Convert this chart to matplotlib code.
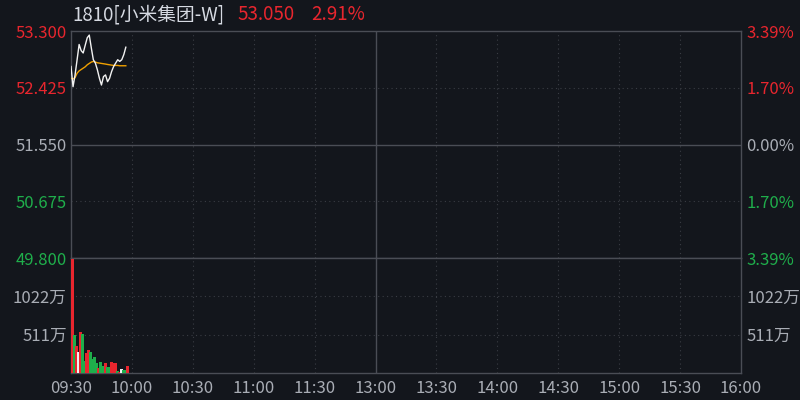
import matplotlib.pyplot as plt

plt.rcParams['font.family'] = ['Noto Sans CJK SC', 'DejaVu Sans']

# 颜色
BG = '#13161c'
GRID = '#3a3d44'
AXIS = '#4a4d55'
TEXT = '#a9adb5'
RED = '#e8262e'
GREEN = '#1fae4b'
WHITE = '#f2f2f2'
ORANGE = '#f0a000'

# 标题
stock_name = '1810[小米集团-W]'
last_price = '53.050'
change_pct = '2.91%'

# 坐标轴
prev_close = 51.550
price_ticks = [53.300, 52.425, 51.550, 50.675, 49.800]
price_labels = ['53.300', '52.425', '51.550', '50.675', '49.800']
pct_labels = ['3.39%', '1.70%', '0.00%', '1.70%', '3.39%']
label_colors = [RED, RED, TEXT, GREEN, GREEN]
vol_ticks = [511, 1022]
vol_labels = ['511万', '1022万']
vol_max = 1533
time_ticks = [0, 30, 60, 90, 120, 150, 180, 210, 240, 270, 300, 330]
time_labels = ['09:30', '10:00', '10:30', '11:00', '11:30', '13:00',
               '13:30', '14:00', '14:30', '15:00', '15:30', '16:00']

# 分时数据 (每分钟)
price = [52.753, 52.441, 52.623, 52.857, 53.092, 52.998, 52.961, 53.081,
         53.196, 53.237, 53.040, 52.857, 52.805, 52.701, 52.571, 52.467,
         52.597, 52.623, 52.519, 52.571, 52.675, 52.753, 52.805, 52.857,
         52.831, 52.857, 52.935, 53.050]
avg_price = [52.571, 52.560, 52.581, 52.649, 52.685, 52.706, 52.727, 52.748,
             52.779, 52.800, 52.821, 52.831, 52.821, 52.810, 52.805, 52.800,
             52.795, 52.790, 52.784, 52.779, 52.774, 52.769, 52.769, 52.769,
             52.764, 52.764, 52.764, 52.764]
volume = [1521, 511, 364, 284, 551, 524, 164, 267, 311, 284, 191, 217, 137, 71,
          151, 97, 137, 84, 84, 151, 137, 137, 31, 17, 57, 44, 44, 97]
vol_dir = ['r', 'g', 'r', 'w', 'r', 'g', 'g', 'r', 'r', 'g', 'g', 'g', 'g', 'r',
           'g', 'g', 'r', 'g', 'g', 'r', 'r', 'r', 'g', 'r', 'w', 'g', 'g', 'r']
dir_colors = {'r': RED, 'g': GREEN, 'w': WHITE}

FS = 12

fig = plt.figure(figsize=(8, 4), dpi=100, facecolor=BG)
ax_p = fig.add_axes([71 / 800, 142 / 400, 670 / 800, 227 / 400], facecolor=BG)
ax_v = fig.add_axes([71 / 800, 27 / 400, 670 / 800, 115 / 400], facecolor=BG)

minutes = list(range(len(price)))

ax_p.plot(minutes, avg_price, color=ORANGE, lw=1.0, zorder=3)
ax_p.plot(minutes, price, color=WHITE, lw=1.0, zorder=4)
# 成交量柱画在每分钟的中间
ax_v.vlines([m + 0.5 for m in minutes], 0, volume,
            colors=[dir_colors[d] for d in vol_dir],
            linewidth=0.75, antialiased=False, zorder=3)

for ax in (ax_p, ax_v):
    ax.set_xlim(0, 330)
    for s in ax.spines.values():
        s.set_color(AXIS)
        s.set_linewidth(1.0)
    for t in time_ticks[1:-1]:
        if t == 150:
            ax.axvline(t, color=AXIS, lw=1.0, zorder=1)
        else:
            ax.axvline(t, color=GRID, lw=0.8, ls=(0, (1, 3)), zorder=1)
    ax.tick_params(length=0, labelsize=FS)

# 价格区
ax_p.set_ylim(49.8, 53.3)
ax_p.axhline(prev_close, color=AXIS, lw=1.0, zorder=1)
for y in [52.425, 50.675]:
    ax_p.axhline(y, color=GRID, lw=0.8, ls=(0, (1, 3)), zorder=1)
ax_p.set_yticks(price_ticks)
ax_p.set_yticklabels(price_labels)
ax_p.tick_params(axis='y', pad=3)
ax_p.set_xticks([])
for lbl, c in zip(ax_p.get_yticklabels(), label_colors):
    lbl.set_color(c)

ax_pr = ax_p.twinx()
ax_pr.set_ylim(49.8, 53.3)
ax_pr.set_yticks(price_ticks)
ax_pr.set_yticklabels(pct_labels)
ax_pr.tick_params(length=0, labelsize=FS, pad=4)
for s in ax_pr.spines.values():
    s.set_visible(False)
for lbl, c in zip(ax_pr.get_yticklabels(), label_colors):
    lbl.set_color(c)

# 成交量区
ax_v.set_ylim(0, vol_max)
for y in vol_ticks:
    ax_v.axhline(y, color=GRID, lw=0.8, ls=(0, (1, 3)), zorder=1)
ax_v.set_yticks(vol_ticks)
ax_v.set_yticklabels(vol_labels, color=TEXT)
ax_v.tick_params(axis='y', pad=3)
ax_v.set_xticks(time_ticks)
ax_v.set_xticklabels(time_labels, color=TEXT)
ax_v.tick_params(axis='x', pad=5)

ax_vr = ax_v.twinx()
ax_vr.set_ylim(0, vol_max)
ax_vr.set_yticks(vol_ticks)
ax_vr.set_yticklabels(vol_labels, color=TEXT)
ax_vr.tick_params(length=0, labelsize=FS, pad=4)
for s in ax_vr.spines.values():
    s.set_visible(False)

# 标题
fig.text(72 / 800, 1 - 15 / 400, stock_name, color='#d6dae2', fontsize=13.5, va='center')
fig.text(237 / 800, 1 - 15 / 400, last_price, color=RED, fontsize=13.5, va='center')
fig.text(311 / 800, 1 - 15 / 400, change_pct, color=RED, fontsize=13.5, va='center')

fig.savefig('out.png', dpi=100, facecolor=BG)
